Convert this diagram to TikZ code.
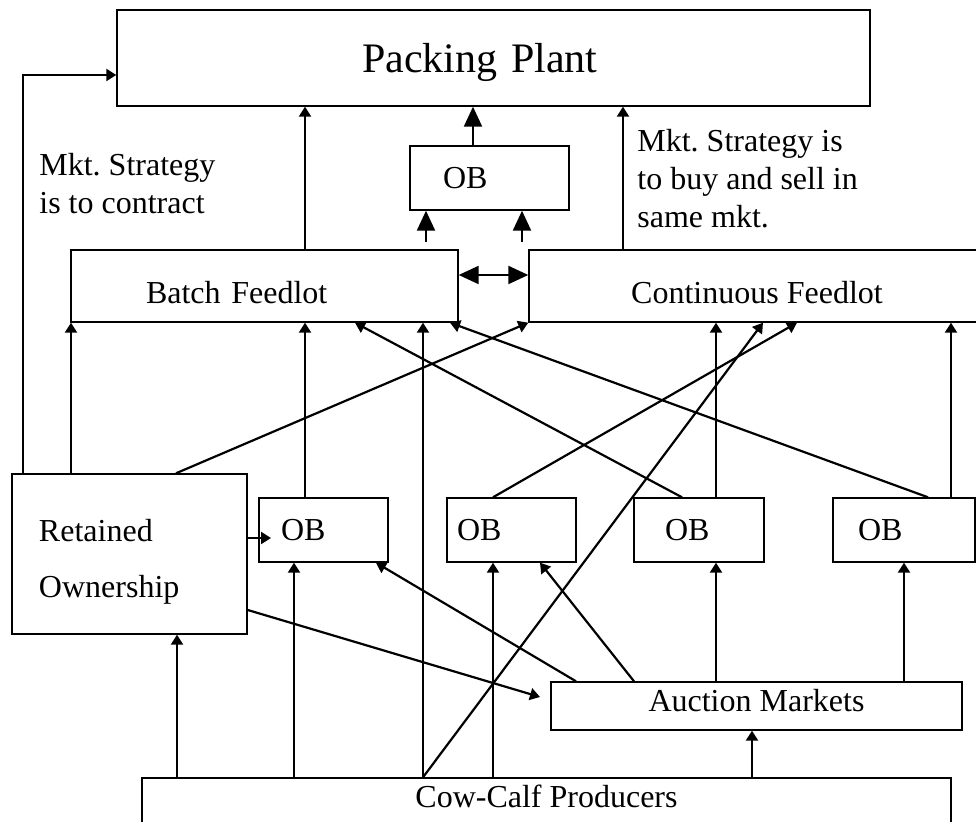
\documentclass[tikz,border=0pt]{standalone}
\usepackage{fontspec}
\setmainfont{Liberation Serif}
\usetikzlibrary{arrows.meta}
\frenchspacing

\begin{document}
\begin{tikzpicture}[x=0.5pt, y=-0.5pt,
  box/.style={rectangle, draw, line width=0.7pt, inner sep=0pt,
              font=\fontsize{16}{19}\selectfont},
  obbox/.style={box, minimum height=32pt, align=left},
  note/.style={align=left, inner sep=0pt, font=\fontsize{16}{19}\selectfont},
  arr/.style={-{Triangle[length=5pt, width=6pt]}, line width=1.1pt},
  bigarr/.style={-{Triangle[length=10pt, width=9pt]}, line width=1.1pt},
  dblarr/.style={{Triangle[length=10pt, width=9pt]}-{Triangle[length=10pt, width=9pt]}, line width=1.1pt},
]
\useasboundingbox (0,0) rectangle (976,822);

% boxes
\node[box, minimum width=376.5pt, minimum height=48pt, text width=131.5pt, align=left,
      font=\fontsize{21}{25}\selectfont, text depth=0pt] (pack) at (493.5,58) {Packing Plant};
\node[obbox, minimum width=79.5pt, text width=46.5pt] (ob0) at (489.5,178) {OB};
\node[box, minimum width=193.5pt, minimum height=36pt, text width=118.5pt, align=left,
      text height=18pt, text depth=0pt] (batch) at (264.5,286) {Batch Feedlot};
\node[box, minimum width=228pt, minimum height=36pt,
      text height=18pt, text depth=0pt] (cont) at (757,286) {Continuous Feedlot};
\node[box, minimum width=117.5pt, minimum height=80pt, text width=90.5pt, align=left,
      font=\fontsize{16}{28}\selectfont, text height=11pt, text depth=23pt] (ret) at (129.5,554) {Retained\\Ownership};
\node[obbox, minimum width=64.5pt, text width=42.5pt] (ob1) at (323.5,530) {OB};
\node[obbox, minimum width=64.5pt, text width=54.5pt] (ob2) at (511.5,530) {OB};
\node[obbox, minimum width=65pt, text width=34pt] (ob3) at (699,530) {OB};
\node[obbox, minimum width=71pt, text width=46pt] (ob4) at (904,530) {OB};
\node[box, minimum width=205.5pt, minimum height=24pt,
      text height=6pt, text depth=0pt] (auc) at (756.5,706) {Auction Markets};
\node[box, minimum width=404.5pt, minimum height=24pt,
      text height=6pt, text depth=0pt] (cow) at (546.5,802) {Cow-Calf Producers};

% strategy notes
\node[note, anchor=base west] (stratL) at (39,214) {Mkt. Strategy\\is to contract};
\node[note, anchor=base west] (stratR) at (637,228) {Mkt. Strategy is\\to buy and sell in\\same mkt.};

\coordinate (bo) at (426,242);
\coordinate (co) at (522,242);
\coordinate (ob1in) at (271,538);
\coordinate (aucin) at (540,697);

% to packing plant
\draw[arr] (23,0 |- ret.north) |- (pack.west |- 0,75);
\draw[arr] (305,0 |- batch.north) -- (305,0 |- pack.south);
\draw[bigarr] (473,0 |- ob0.north) -- (473,0 |- pack.south);
\draw[arr] (623,0 |- cont.north) -- (623,0 |- pack.south);
% feedlots to OB
\draw[bigarr] (bo) -- (bo |- ob0.south);
\draw[bigarr] (co) -- (co |- ob0.south);
\draw[dblarr] (batch.east |- 0,275) -- (cont.west |- 0,275);
% into feedlots
\draw[arr] (71,0 |- ret.north) -- (71,0 |- batch.south);
\draw[arr] (176,0 |- ret.north) -- (cont.south west);
\draw[arr] (305,0 |- ob1.north) -- (305,0 |- batch.south);
\draw[arr] (423,0 |- cow.north) -- (423,0 |- batch.south);
\draw[arr] (682,0 |- ob3.north) -- (355,0 |- batch.south);
\draw[arr] (928,0 |- ob4.north) -- (450,0 |- batch.south);
\draw[arr] (493,0 |- ob2.north) -- (797,0 |- cont.south);
\draw[arr] (423,0 |- cow.north) -- (763,0 |- cont.south);
\draw[arr] (716,0 |- ob3.north) -- (716,0 |- cont.south);
\draw[arr] (951,0 |- ob4.north) -- (951,0 |- cont.south);
% into OB boxes
\draw[arr] (ret.east |- ob1in) -- (ob1in);
\draw[arr] (294,0 |- cow.north) -- (294,0 |- ob1.south);
\draw[arr] (576,0 |- auc.north) -- (376,0 |- ob1.south);
\draw[arr] (493,0 |- cow.north) -- (493,0 |- ob2.south);
\draw[arr] (634,0 |- auc.north) -- (540,0 |- ob2.south);
\draw[arr] (716,0 |- auc.north) -- (716,0 |- ob3.south);
\draw[arr] (904,0 |- auc.north) -- (904,0 |- ob4.south);
% from cow-calf
\draw[arr] (177,0 |- cow.north) -- (177,0 |- ret.south);
\draw[arr] (752,0 |- cow.north) -- (752,0 |- auc.south);
\draw[arr] (ret.east |- 0,610) -- (aucin);

\end{tikzpicture}
\end{document}
